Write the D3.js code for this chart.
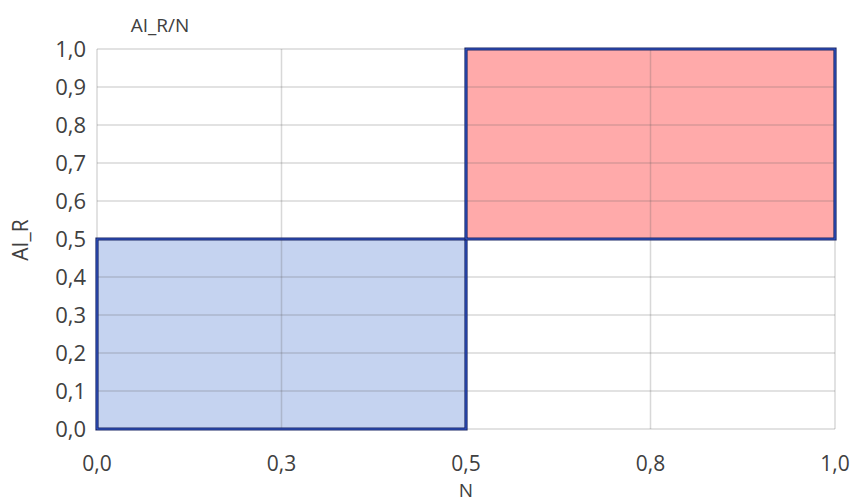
<!DOCTYPE html>
<html><head><meta charset="utf-8">
<script src="https://cdn.jsdelivr.net/npm/d3@7"></script>
<style>body{margin:0;background:#fff}svg{display:block}text{font-family:"Open Sans","Noto Sans",sans-serif;fill:#404040}</style>
</head><body><svg id="c" width="854" height="503"></svg>
<script>
const title = "AI_R/N";
const xLabel = "N";
const yLabel = "AI_R";
const xTicks = [0, 0.25, 0.5, 0.75, 1.0];
const yTicks = [0,0.1,0.2,0.3,0.4,0.5,0.6,0.7,0.8,0.9,1.0];
const lowSeriesN = [0, 0, 0.5, 0.5, 0];
const lowSeriesAIR = [0, 0.5, 0.5, 0, 0];
const highSeriesN = [0.5, 0.5, 1, 1, 0.5];
const highSeriesAIR = [0.5, 1, 1, 0.5, 0.5];

const svg = d3.select("#c");
const m = {l:97, r:835, t:49, b:429};
const x = d3.scaleLinear().domain([0,1]).range([m.l, m.r]);
const y = d3.scaleLinear().domain([0,1]).range([m.b, m.t]);
const fmt = v => d3.format(".1f")(v).replace(".", ",");

const line = d3.line().x(d=>x(d[0])).y(d=>y(d[1]));
const series = [
  {pts: lowSeriesN.map((v,i)=>[v, lowSeriesAIR[i]]), fill:"#c5d3f0"},
  {pts: highSeriesN.map((v,i)=>[v, highSeriesAIR[i]]), fill:"#ffaaaa"}
];

series.forEach(s => svg.append("path").attr("d", line(s.pts)+"Z").attr("fill", s.fill));

const g = svg.append("g");
g.selectAll("line.h").data(yTicks).join("line")
  .attr("x1", m.l).attr("x2", m.r).attr("y1", d=>y(d)).attr("y2", d=>y(d))
  .attr("stroke", "rgba(90,90,90,0.24)").attr("stroke-width", 1.5);
g.selectAll("line.v").data(xTicks).join("line")
  .attr("y1", m.t).attr("y2", m.b).attr("x1", d=>x(d)).attr("x2", d=>x(d))
  .attr("stroke", "rgba(90,90,90,0.24)").attr("stroke-width", 1.5);

series.forEach(s => {
  svg.append("path").attr("d", line(s.pts)+"Z").attr("fill","none")
    .attr("stroke","#1c2966").attr("stroke-width",3.2).attr("stroke-linejoin","miter");
  svg.append("path").attr("d", line(s.pts)).attr("fill","none")
    .attr("stroke","#2e56d2").attr("stroke-width",1.1).attr("stroke-linejoin","round");
});

svg.append("g").selectAll("text").data(yTicks).join("text")
  .attr("x", 86).attr("y", d=>y(d)).attr("dy","0.36em").attr("text-anchor","end")
  .style("font-size", "22px").text(fmt);
svg.append("g").selectAll("text").data(xTicks).join("text")
  .attr("x", d=>x(d)).attr("y", 471).attr("text-anchor","middle")
  .style("font-size", "21px").text(fmt);
svg.append("text").attr("x", 466).attr("y", 497).attr("text-anchor","middle")
  .style("font-size", "19px").text(xLabel);
svg.append("text").attr("transform","translate(20,240) rotate(-90)").attr("dy","0.36em")
  .attr("text-anchor","middle").style("font-size", "21px").text(yLabel);
svg.append("text").attr("x", 160).attr("y", 25).attr("dy","0.36em").attr("text-anchor","middle")
  .style("font-size", "19px").text(title);
</script></body></html>
